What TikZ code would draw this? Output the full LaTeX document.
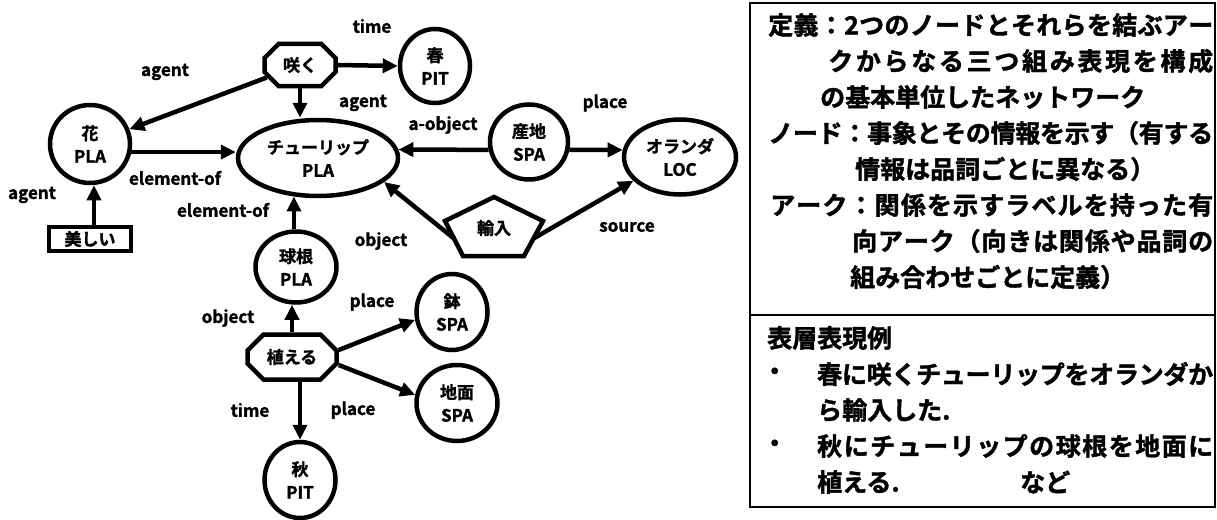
\documentclass[tikz,border=0pt]{standalone}
\usepackage{fontspec}
\setmainfont{Noto Sans CJK JP}[BoldFont={* Bold},BoldFeatures={FakeBold=1.6}]
\usetikzlibrary{arrows.meta,shapes.misc,shapes.geometric,calc}
\def\SpreadFirst#1#2\relax{#1\SpreadRest#2\relax}
\def\SpreadRest#1{\ifx#1\relax\else\hskip0pt plus 1fil minus 2pt#1\expandafter\SpreadRest\fi}
\tikzset{
  ln/.style={line width=4.5pt},
  arr/.style={line width=4.5pt,-{Triangle[length=15pt,width=14pt]}},
  nd/.style={draw,ln,ellipse,inner sep=0pt,align=center,font=\fontsize{17}{23}\selectfont\bfseries},
  oct/.style={draw,ln,chamfered rectangle,inner sep=0pt,align=center,font=\fontsize{17}{23}\selectfont\bfseries},
  box/.style={draw,ln,rectangle,inner sep=0pt,align=center,font=\fontsize{17}{23}\selectfont\bfseries},
  lab/.style={inner sep=0pt,font=\fontsize{17}{20}\selectfont\bfseries},
  txt/.style={inner sep=0pt,anchor=west,font=\fontsize{25}{30}\selectfont\bfseries},
}
\newcommand\jline[5]{\node[txt] (#1) at (#2,#3) {\hbox to #4pt{\SpreadFirst#5\relax}};}
\newcommand\pline[4]{\node[txt] (#1) at (#2,#3) {#4};}
\begin{document}
\begin{tikzpicture}[x=1pt,y=-1pt]
\useasboundingbox (0,0) rectangle (1217,519);
% nodes
\node[oct,minimum width=71pt,minimum height=42pt,chamfered rectangle xsep=7pt,chamfered rectangle ysep=7pt] (saku) at (300,65) {咲く};
\node[nd,minimum width=70pt,minimum height=74pt] (haru) at (435,66) {春\\PIT};
\node[nd,minimum width=80pt,minimum height=78pt] (hana) at (90,144) {花\\PLA};
\node[nd,minimum width=160pt,minimum height=76pt] (tulip) at (318,158) {チューリップ\\PLA};
\node[box,minimum width=82pt,minimum height=24pt] (utsu) at (90,239) {美しい};
\node[nd,minimum width=81pt,minimum height=71pt] (kyukon) at (296,267) {球根\\PLA};
\node[oct,minimum width=89pt,minimum height=45pt,chamfered rectangle xsep=8pt,chamfered rectangle ysep=8pt] (ueru) at (292,357) {植える};
\node[nd,minimum width=71pt,minimum height=76pt] (aki) at (300,480) {秋\\PIT};
\node[nd,minimum width=71pt,minimum height=76pt] (hachi) at (452,312) {鉢\\SPA};
\node[nd,minimum width=81pt,minimum height=76pt] (jimen) at (457,403) {地面\\SPA};
\node[nd,minimum width=78pt,minimum height=75pt] (sanchi) at (529,142) {産地\\SPA};
\node[nd,minimum width=112pt,minimum height=75pt] (oranda) at (680,157) {オランダ\\LOC};
% pentagon
\coordinate (pT) at (494,197);
\coordinate (pR) at (543,221);
\coordinate (pBR) at (524,256);
\coordinate (pBL) at (463,256);
\coordinate (pL) at (445,221);
\draw[ln,line join=miter] (pT) -- (pR) -- (pBR) -- (pBL) -- (pL) -- cycle;
\node[inner sep=0pt,font=\fontsize{17}{23}\selectfont\bfseries] (yunyu) at (494,228) {輸入};
\coordinate (yL) at ($(pL)!0.5!(pBL)$);
\coordinate (yR) at ($(pR)!0.5!(pBR)$);
% edges
\draw[arr] (saku.east) -- (haru.west);
\draw[arr] (saku) -- (hana);
\draw[arr] (saku.south) -- (saku.south |- tulip.north);
\draw[arr] (hana.-11) -- (hana.-11 -| tulip.west);
\draw[arr] ([xshift=4pt]utsu.north) -- ([xshift=4pt]hana.south);
\draw[arr] (tulip.238 |- kyukon.north) -- (tulip.238);
\draw[arr] (sanchi.191) -- (tulip.6);
\draw[arr] (sanchi.-11) -- (oranda.173);
\draw[arr] (yL) -- (tulip.-20);
\draw[arr] (yR) -- (oranda.207);
\draw[arr] (ueru.north) -- (ueru.north |- kyukon.south);
\draw[arr] ([yshift=7pt]ueru.east) -- (hachi.192);
\draw[arr] ([yshift=-8pt]ueru.east) -- (jimen.169);
\draw[arr] (ueru.south -| aki.north) -- (aki.north);
% edge labels
\node[lab] (l1) at (372,26) {time};
\node[lab] (l2) at (165,72) {agent};
\node[lab] (l3) at (363,103) {agent};
\node[lab] (l4) at (175,178) {element-of};
\node[lab] (l5) at (32,195) {agent};
\node[lab] (l6) at (223,210) {element-of};
\node[lab] (l7) at (381,241) {object};
\node[lab] (l8) at (443,125) {a-object};
\node[lab] (l9) at (605,103) {place};
\node[lab] (l10) at (627,227) {source};
\node[lab] (l11) at (228,318) {object};
\node[lab] (l12) at (372,302) {place};
\node[lab] (l13) at (250,410) {time};
\node[lab] (l14) at (353,410) {place};
% right box
\draw[line width=2pt] (750,3) rectangle (1215,507);
\draw[line width=2pt] (750,315) -- (1215,315);
\jline{t1}{768}{25}{445}{定義：2つのノードとそれらを結ぶアー}
\jline{t2}{828}{61}{385}{クからなる三つ組み表現を構成}
\pline{t3}{820}{97}{の基本単位したネットワーク}
\jline{t4}{768}{133}{445}{ノード：事象とその情報を示す（有する}
\pline{t5}{855}{169}{情報は品詞ごとに異なる）}
\jline{t6}{770}{205}{443}{アーク：関係を示すラベルを持った有}
\jline{t7}{852}{241}{361}{向アーク（向きは関係や品詞の}
\pline{t8}{850}{277}{組み合わせごとに定義）}
\pline{t9}{767}{338}{表層表現例}
\pline{b1}{762}{374}{・}
\jline{t10}{817}{374}{396}{春に咲くチューリップをオランダか}
\pline{t11}{817}{410}{ら輸入した.}
\pline{b2}{762}{446}{・}
\jline{t12}{817}{446}{396}{秋にチューリップの球根を地面に}
\pline{t13}{817}{482}{植える.}
\pline{t14}{1020}{482}{など}
\end{tikzpicture}
\end{document}
